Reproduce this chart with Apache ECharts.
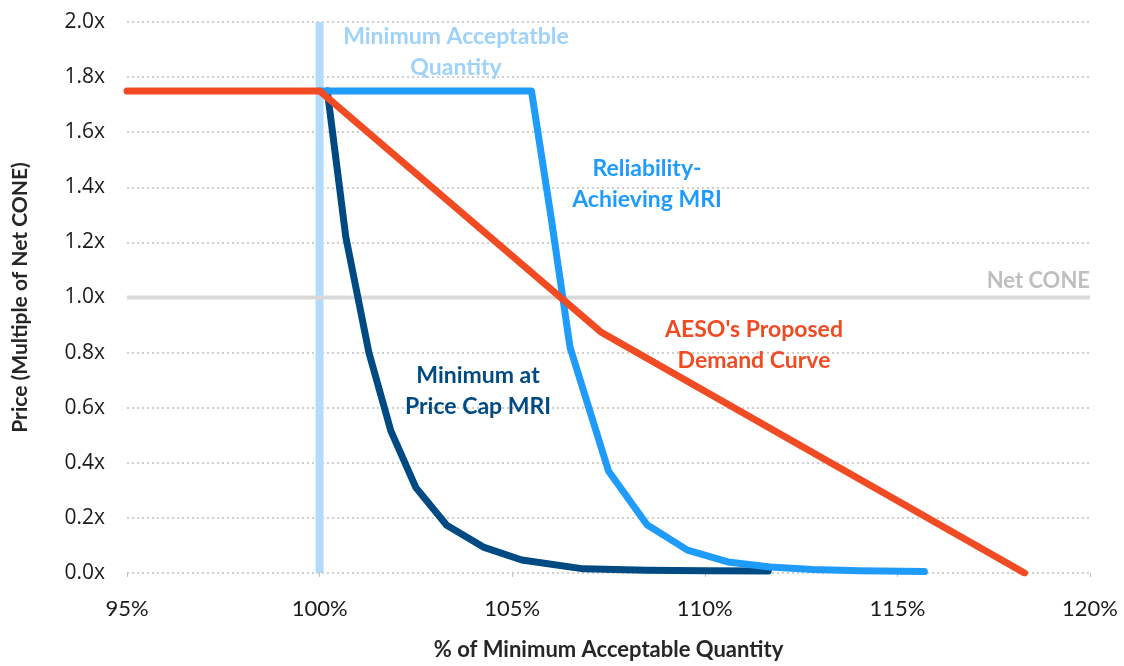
<!DOCTYPE html>
<html>
<head>
<meta charset="utf-8">
<script src="https://cdn.jsdelivr.net/npm/echarts@6/dist/echarts.min.js"></script>
<style>html,body{margin:0;padding:0;background:#fff}#c{width:1124px;height:666px}</style>
</head>
<body>
<div id="c"></div>
<script>
// Data
const xTicks = [95, 100, 105, 110, 115, 120];
const yTicks = [0, 0.2, 0.4, 0.6, 0.8, 1.0, 1.2, 1.4, 1.6, 1.8, 2.0];

const aesoX = [95, 100, 107.3, 118.3];
const aesoY = [1.75, 1.75, 0.875, 0];

const reliabilityX = [100, 105.5, 106.0, 106.5, 107.5, 108.5, 109.55, 110.6, 111.7, 112.8, 114.0, 115.7];
const reliabilityY = [1.75, 1.75, 1.30, 0.82, 0.37, 0.175, 0.083, 0.04, 0.022, 0.013, 0.008, 0.005];

const priceCapX = [100.2, 100.68, 101.28, 101.85, 102.5, 103.3, 104.25, 105.25, 106.85, 108.5, 110.0, 111.65];
const priceCapY = [1.75, 1.22, 0.80, 0.516, 0.31, 0.173, 0.094, 0.047, 0.015, 0.01, 0.008, 0.007];

const maqX = [100, 100];
const maqY = [0, 2.0];

const netConeX = [95, 120];
const netConeY = [1.0, 1.0];

const zip = (xs, ys) => xs.map((x, i) => [x, ys[i]]);

const FONT = 'Lato, "Open Sans", sans-serif';
const chart = echarts.init(document.getElementById('c'));

const labelStyle = (color) => ({ font: 'bold 23px ' + FONT, fill: color, textAlign: 'center', textVerticalAlign: 'middle', lineHeight: 31 });

chart.setOption({
  animation: false,
  grid: { left: 127, right: 34, top: 22, bottom: 90 },
  xAxis: {
    type: 'value', min: 95, max: 120, interval: 5,
    axisLine: { show: false },
    axisTick: { show: true, length: 4, lineStyle: { color: '#bfbfbf' } },
    axisLabel: { formatter: '{value}%', color: '#1a1a1a', fontSize: 22, fontFamily: '"Liberation Sans Narrow", ' + FONT, margin: 25 },
    splitLine: { show: false },
    name: '% of Minimum Acceptable Quantity', nameLocation: 'middle', nameGap: 66,
    nameTextStyle: { color: '#262626', fontSize: 22, fontWeight: 'bold', fontFamily: '"Liberation Sans Narrow", ' + FONT }
  },
  yAxis: {
    type: 'value', min: 0, max: 2, interval: 0.2,
    axisLine: { show: false }, axisTick: { show: false },
    axisLabel: { formatter: v => v.toFixed(1) + 'x', color: '#1a1a1a', fontSize: 21, fontFamily: '"Open Sans", sans-serif', margin: 22 },
    splitLine: { show: true, lineStyle: { color: '#bfbfbf', type: [2, 3], width: 1.5 } },
    name: 'Price (Multiple of Net CONE)', nameLocation: 'middle', nameGap: 96, nameRotate: 90,
    nameTextStyle: { color: '#262626', fontSize: 21, fontWeight: 'bold', fontFamily: FONT }
  },
  series: [
    { type: 'line', data: zip(maqX, maqY), symbol: 'none', lineStyle: { color: '#b3dcfc', width: 8 }, z: 1 },
    { type: 'line', data: zip(netConeX, netConeY), symbol: 'none', lineStyle: { color: '#d9d9d9', width: 4 }, z: 1 },
    { type: 'line', data: zip(priceCapX, priceCapY), symbol: 'none', lineStyle: { color: '#004a84', width: 7, cap: 'round', join: 'round' }, z: 2 },
    { type: 'line', data: zip(reliabilityX, reliabilityY), symbol: 'none', lineStyle: { color: '#1e9bfb', width: 7, cap: 'round', join: 'round' }, z: 3 },
    { type: 'line', data: zip(aesoX, aesoY), symbol: 'none', lineStyle: { color: '#f04b23', width: 7, cap: 'round', join: 'round' }, z: 4 }
  ],
  graphic: [
    { type: 'text', x: 456, y: 52, style: Object.assign(labelStyle('#9fd2fa'), { text: 'Minimum Acceptatble\nQuantity' }), z: 10 },
    { type: 'text', x: 647, y: 184, style: Object.assign(labelStyle('#1e9bfb'), { text: 'Reliability-\nAchieving MRI' }), z: 10 },
    { type: 'text', x: 754, y: 345, style: Object.assign(labelStyle('#f04b23'), { text: "AESO's Proposed\nDemand Curve" }), z: 10 },
    { type: 'text', x: 478, y: 391, style: Object.assign(labelStyle('#004a84'), { text: 'Minimum at\nPrice Cap MRI' }), z: 10 },
    { type: 'text', x: 1090, y: 281, style: { text: 'Net CONE', font: 'bold 22px ' + FONT, fill: '#bfbfbf', textAlign: 'right', textVerticalAlign: 'middle' }, z: 10 }
  ]
});
</script>
</body>
</html>
